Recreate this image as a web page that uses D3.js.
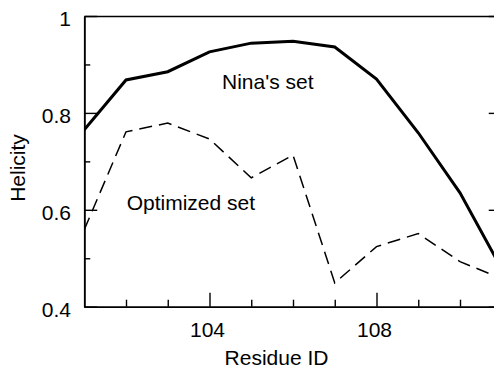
<!DOCTYPE html>
<html>
<head>
<meta charset="utf-8">
<script src="https://cdn.jsdelivr.net/npm/d3@7"></script>
<style>
  html, body { margin: 0; padding: 0; background: #fff; }
  svg { display: block; }
  text { font-family: "Liberation Sans", Arial, Helvetica, sans-serif; fill: #000; }
</style>
</head>
<body>
<svg id="chart" width="494" height="368"></svg>
<script>
// ---- data ----
const residues = [101, 102, 103, 104, 105, 106, 107, 108, 109, 110, 111];
const ninaSet = [0.765, 0.868, 0.885, 0.926, 0.944, 0.948, 0.936, 0.870, 0.759, 0.635, 0.478];
const optimizedSet = [0.559, 0.761, 0.779, 0.746, 0.666, 0.713, 0.449, 0.524, 0.551, 0.493, 0.458];
const xMajorTicks = [104, 108];
const xMinorTicks = [102, 103, 105, 106, 107, 109, 110];
const yMajorTicks = [0.4, 0.6, 0.8, 1];
const yMinorTicks = [0.5, 0.7, 0.9];
const yTickLabels = ["0.4", "0.6", "0.8", "1"];
const seriesLabels = ["Nina's set", "Optimized set"];
const xTitle = "Residue ID";
const yTitle = "Helicity";

// ---- layout ----
const L = 84.25, R = 501.75, T = 16, B = 306.7;
const svg = d3.select("#chart");
const x = d3.scaleLinear().domain([101, 111]).range([L, R]);
const y = d3.scaleLinear().domain([0.4, 1]).range([B, T]);
const fs = 21;

// clip
svg.append("clipPath").attr("id", "plotclip")
  .append("rect").attr("x", L).attr("y", T).attr("width", R - L).attr("height", B - T);

// axes (major/minor ticks inward)
function styleAxis(g) {
  g.select(".domain").attr("stroke", "#000").attr("stroke-width", 1.6);
  g.selectAll(".tick line").attr("stroke", "#000").attr("stroke-width", 1.4);
  g.selectAll("text").remove();
}
// bottom
svg.append("g").attr("transform", `translate(0,${B})`)
  .call(d3.axisBottom(x).tickValues(xMajorTicks).tickSize(-14).tickSizeOuter(0).tickFormat(""))
  .call(styleAxis);
svg.append("g").attr("transform", `translate(0,${B})`)
  .call(d3.axisBottom(x).tickValues(xMinorTicks).tickSize(-7).tickSizeOuter(0).tickFormat(""))
  .call(styleAxis);
// left
svg.append("g").attr("transform", `translate(${L},0)`)
  .call(d3.axisLeft(y).tickValues(yMajorTicks).tickSize(-13).tickSizeOuter(0).tickFormat(""))
  .call(styleAxis);
svg.append("g").attr("transform", `translate(${L},0)`)
  .call(d3.axisLeft(y).tickValues(yMinorTicks).tickSize(-6).tickSizeOuter(0).tickFormat(""))
  .call(styleAxis);
// right
svg.append("g").attr("transform", `translate(${R},0)`)
  .call(d3.axisRight(y).tickValues(yMajorTicks).tickSize(-13).tickSizeOuter(0).tickFormat(""))
  .call(styleAxis);
svg.append("g").attr("transform", `translate(${R},0)`)
  .call(d3.axisRight(y).tickValues(yMinorTicks).tickSize(-6).tickSizeOuter(0).tickFormat(""))
  .call(styleAxis);
// top
svg.append("g").attr("transform", `translate(0,${T})`)
  .call(d3.axisTop(x).tickValues([]).tickSizeOuter(0))
  .call(styleAxis);

// tick labels
svg.append("g").selectAll("text").data(xMajorTicks).join("text")
  .attr("x", d => x(d) - 2).attr("y", B + 30.5)
  .attr("text-anchor", "middle").attr("font-size", fs)
  .text(d => d);
svg.append("g").selectAll("text").data(yMajorTicks).join("text")
  .attr("x", 71).attr("y", d => y(d) + 10)
  .attr("text-anchor", "end").attr("font-size", fs)
  .text((d, i) => yTickLabels[i]);

// titles
svg.append("text").attr("x", 276.5).attr("y", 365)
  .attr("text-anchor", "middle").attr("font-size", fs).text(xTitle);
svg.append("text").attr("transform", "translate(25,168) rotate(-90)")
  .attr("text-anchor", "middle").attr("font-size", fs).text(yTitle);

// lines
const line = d3.line().x((d, i) => x(residues[i])).y(d => y(d));
const plot = svg.append("g").attr("clip-path", "url(#plotclip)");
plot.append("path").datum(ninaSet).attr("d", line)
  .attr("fill", "none").attr("stroke", "#000").attr("stroke-width", 3)
  .attr("stroke-linejoin", "miter");
plot.append("path").datum(optimizedSet).attr("d", line)
  .attr("fill", "none").attr("stroke", "#000").attr("stroke-width", 1.5)
  .attr("stroke-dasharray", "13,7");

// annotations
svg.append("text").attr("x", 222).attr("y", 89.3).attr("font-size", fs).text(seriesLabels[0]);
svg.append("text").attr("x", 126.7).attr("y", 209.5).attr("font-size", fs).text(seriesLabels[1]);
</script>
</body>
</html>
